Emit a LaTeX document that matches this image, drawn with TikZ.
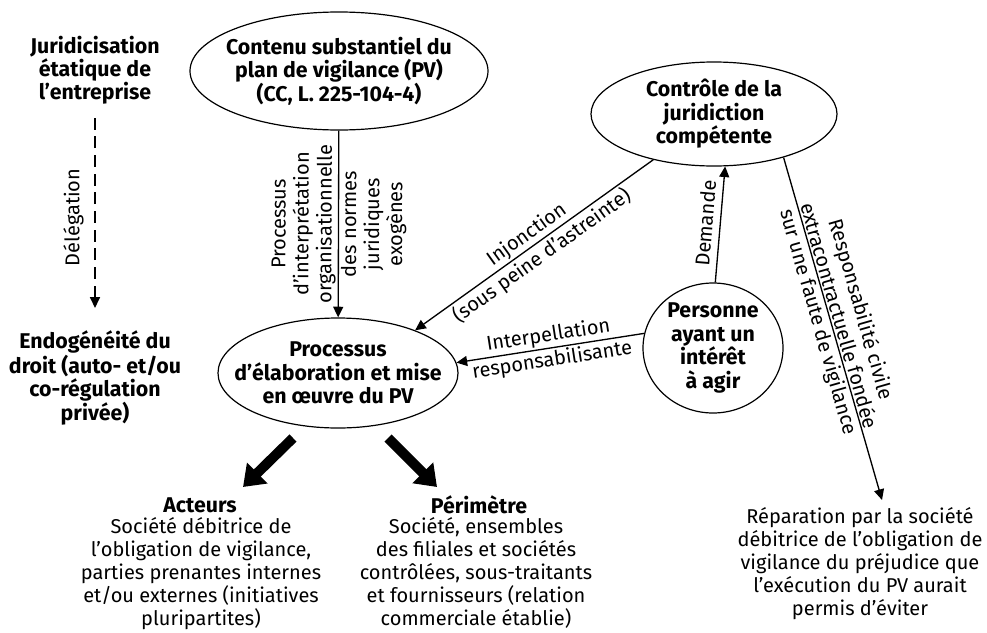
\documentclass[tikz,border=0pt]{standalone}
\usepackage{fontspec}
\setmainfont{Fira Sans}
\usetikzlibrary{shapes.geometric,arrows.meta}
\begin{document}
\begin{tikzpicture}[x=0.75pt,y=-0.75pt,
  every node/.style={font=\fontsize{15}{17.25}\selectfont, align=center, inner sep=0pt},
  title/.style={font=\fontsize{16}{17.25}\selectfont\bfseries},
  ell/.style={draw, ellipse, line width=0.9pt, inner xsep=-20pt, inner ysep=-8pt,
    font=\fontsize{16}{17.6}\selectfont\bfseries},
  conn/.style={line width=1pt, -{Triangle[length=8pt,width=7.5pt]}},
  rconn/.style={line width=1pt, {Triangle[length=8pt,width=7.5pt]}-},
  lab/.style={sloped, inner sep=1.5pt},
  bigarrow/.style={line width=7.5pt, -{Triangle[length=15pt,width=21pt]}}
]
\fill[white] (0,0) rectangle (987,632);
\useasboundingbox (0,0) rectangle (987,632);

% left column
\node[title] (juri) at (95,70) {Juridicisation\\étatique de\\l’entreprise};
\node[title] (endo) at (95,378) {Endogénéité du\\droit (auto- et/ou\\co-régulation\\privée)};

% ellipses
\node[ell, minimum width=223.5pt, minimum height=88.5pt] (contenu) at (339,71)
  {Contenu substantiel du\\plan de vigilance (PV)\\(CC, L. 225-104-4)};
\node[ell, minimum width=184.5pt, minimum height=78pt] (ctrl) at (714,114)
  {Contrôle de la\\juridiction\\compétente};
\node[ell, minimum width=105pt, minimum height=97.5pt] (pers) at (713,348)
  {Personne\\ayant un\\intérêt\\à agir};
\node[ell, minimum width=180pt, minimum height=82.5pt] (proc) at (338,373)
  {Processus\\d’élaboration et mise\\en œuvre du PV};

% bottom texts
\node[title] (acth) at (200,505) {Acteurs};
\node[anchor=north] (act) at (201,517) {Société débitrice de\\l’obligation de vigilance,\\parties prenantes internes\\et/ou externes (initiatives\\pluripartites)};
\node[title] (perh) at (479,505) {Périmètre};
\node[anchor=north] (per) at (476,517) {Société, ensembles\\des filiales et sociétés\\contrôlées, sous-traitants\\et fournisseurs (relation\\commerciale établie)};
\node[anchor=north] (rep) at (860,507) {Réparation par la société\\débitrice de l’obligation de\\vigilance du préjudice que\\l’exécution du PV aurait\\permis d’éviter};

% connectors
\draw[rconn, dash pattern=on 9pt off 5pt, shorten <=17pt, shorten >=9pt] (endo) -- (juri)
  node[midway, sloped, above, inner sep=8pt] {Délégation};

\draw[rconn] (proc) -- (contenu)
  node[midway, lab, above] {Processus\\d’interprétation\\organisationnelle}
  node[midway, lab, below] {des normes\\juridiques\\exogènes};

\draw[rconn] (proc.29) -- (ctrl.217)
  node[midway, lab, above] {Injonction}
  node[midway, lab, below] {(sous peine d’astreinte)};

\draw[rconn] (proc.5) -- (pers.168)
  node[midway, lab, above] {Interpellation}
  node[midway, lab, below] {responsabilisante};

\draw[conn] (pers.88) -- (ctrl.282)
  node[midway, lab, above, inner sep=5pt] {Demande};

\coordinate (repend) at (882,500);
\draw[conn] (ctrl.328) -- (repend)
  node[pos=0.47, lab, above] {Responsabilité civile\\extracontractuelle fondée}
  node[pos=0.47, lab, below] {sur une faute de vigilance};

% thick arrows
\coordinate (b1s) at (293,438);
\coordinate (b1e) at (243,487);
\coordinate (b2s) at (388,438);
\coordinate (b2e) at (437,487);
\draw[bigarrow] (b1s) -- (b1e);
\draw[bigarrow] (b2s) -- (b2e);
\end{tikzpicture}
\end{document}
